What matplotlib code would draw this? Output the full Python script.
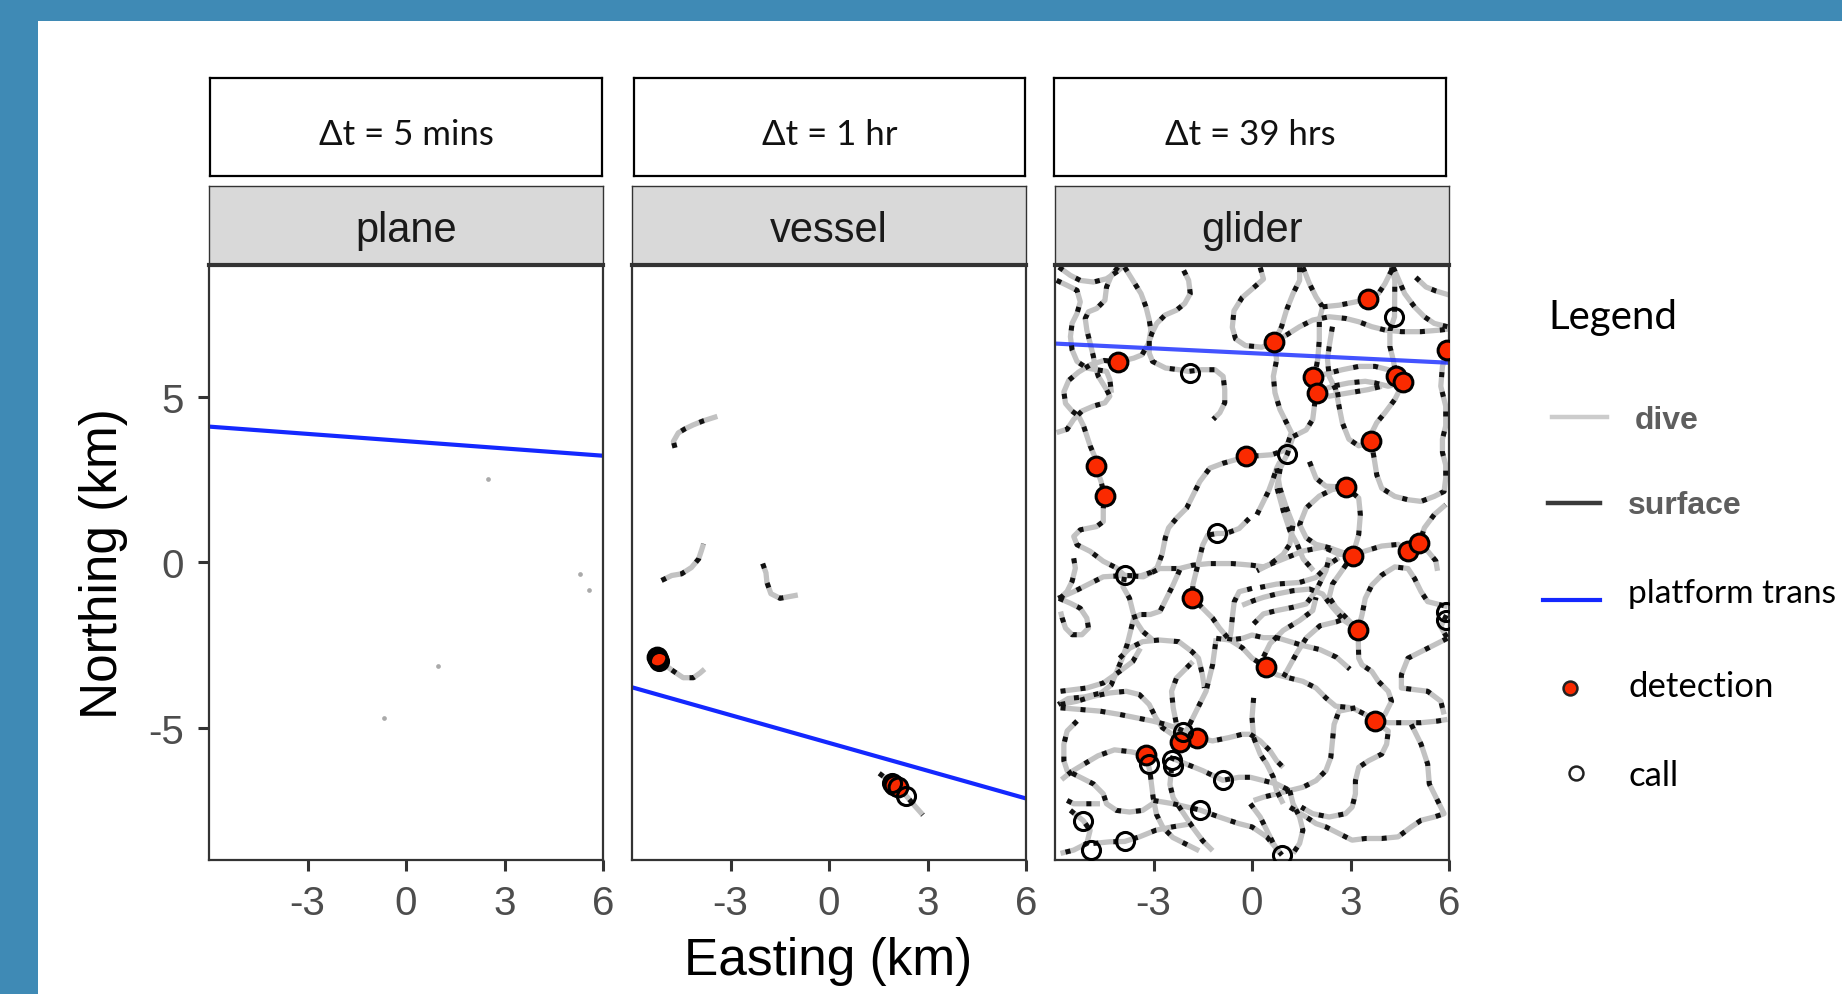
import matplotlib
matplotlib.use("Agg")
import matplotlib.pyplot as plt
from matplotlib.patches import Rectangle
from matplotlib.lines import Line2D

plt.rcParams['font.family'] = ['Liberation Sans', 'DejaVu Sans']
plt.rcParams['axes.unicode_minus'] = False

# ---------------- data ----------------
platforms = ["plane", "vessel", "glider"]
dt_labels = ["\u0394t = 5 mins", "\u0394t = 1 hr", "\u0394t = 39 hrs"]
x_ticks = [-3, 0, 3, 6]
x_tick_labels = ["-3", "0", "3", "6"]
y_ticks = [-5, 0, 5]
y_tick_labels = ["-5", "0", "5"]

# platform transect lines (x, y endpoints in km)
transect_plane = [(-6, 4.1), (6, 3.22)]
transect_vessel = [(-6, -3.78), (6, -7.14)]
transect_glider = [(-6, 6.61), (6, 6.03)]

# plane: tiny dive fragments
plane_dive_x = [2.5, 5.29, 5.57, 0.96, -0.68]
plane_dive_y = [2.51, -0.35, -0.85, -3.14, -4.7]

# vessel tracks
vessel_tracks = [
    [(-4.69, 3.46), (-4.74, 3.65), (-4.59, 3.91), (-4.39, 4.03), (-4.14, 4.15), (-3.84, 4.27), (-3.40, 4.41)],
    [(-5.10, -0.55), (-4.79, -0.40), (-4.49, -0.35), (-4.19, -0.16), (-3.97, 0.10), (-3.89, 0.34), (-3.82, 0.56)],
    [(-2.02, -0.04), (-1.92, -0.32), (-1.89, -0.61), (-1.77, -0.95), (-1.49, -1.09), (-1.22, -1.04), (-0.95, -0.99)],
    [(-5.25, -2.87), (-4.99, -3.11), (-4.74, -3.29), (-4.44, -3.49), (-4.13, -3.49), (-3.93, -3.35), (-3.79, -3.23)],
    [(1.53, -6.38), (1.85, -6.62), (2.10, -6.80), (2.36, -7.07), (2.6, -7.35), (2.86, -7.64)],
]
vessel_det_x = [-5.25, 1.98, 2.10]
vessel_det_y = [-2.85, -6.72, -6.80]
vessel_call_x = [-5.22, -5.18, 1.92, 2.36]
vessel_call_y = [-2.92, -2.98, -6.68, -7.07]

# glider tracks
glider_tracks = [
    [(-5.88, 8.92), (-5.53, 8.67), (-5.23, 8.52), (-4.83, 8.47), (-4.43, 8.57), (-4.13, 8.77), (-3.93, 8.94)],
    [(-3.88, 8.92), (-3.63, 8.52), (-3.38, 8.12), (-3.23, 7.72), (-3.13, 7.32), (-3.08, 7.02), (-3.13, 6.72), (-3.13, 6.32), (-3.03, 6.07), (-2.63, 5.87), (-2.23, 5.82), (-1.93, 5.77), (-1.53, 5.82), (-1.13, 5.82), (-0.88, 5.62), (-0.83, 5.22), (-0.83, 4.82), (-0.98, 4.52), (-1.18, 4.32)],
    [(-4.08, 8.92), (-4.28, 8.67), (-4.43, 8.32), (-4.48, 7.92), (-4.73, 7.67), (-4.98, 7.57), (-5.08, 7.37), (-5.03, 7.02), (-4.93, 6.62), (-4.83, 6.22), (-4.78, 5.92), (-4.68, 5.62), (-4.43, 5.22), (-4.33, 5.02), (-4.48, 4.82), (-4.83, 4.72), (-5.18, 4.57), (-5.43, 4.32), (-5.63, 4.02), (-5.95, 3.92)],
    [(-2.08, 8.82), (-1.93, 8.52), (-1.88, 8.12), (-2.05, 7.82), (-2.3, 7.62), (-2.65, 7.47), (-2.9, 7.22), (-3.05, 6.92), (-3.15, 6.62), (-3.35, 6.27), (-3.6, 6.17), (-4.09, 6.05), (-4.5, 6.1), (-4.9, 5.98), (-5.28, 5.75), (-5.58, 5.5), (-5.73, 5.15), (-5.68, 4.8), (-5.48, 4.57), (-5.28, 4.42), (-5.13, 4.12), (-5.03, 3.82), (-4.93, 3.52), (-4.78, 3.17), (-4.76, 2.90), (-4.6, 2.45), (-4.49, 2.01), (-4.53, 1.63), (-4.53, 1.23), (-4.73, 1.08), (-5.23, 0.98), (-5.43, 0.78), (-5.33, 0.53), (-4.93, 0.33), (-4.53, 0.03), (-4.13, -0.17), (-3.88, -0.40), (-3.93, -0.74), (-3.73, -1.09), (-3.63, -1.49), (-3.53, -1.79), (-3.33, -2.09), (-3.03, -2.34)],
    [(-5.95, 8.52), (-5.63, 8.37), (-5.33, 8.22), (-5.23, 7.87), (-5.33, 7.52), (-5.48, 7.22), (-5.53, 6.82), (-5.48, 6.42), (-5.33, 6.07), (-5.03, 5.87), (-4.73, 5.82), (-4.43, 5.77), (-4.33, 5.52), (-4.28, 5.12)],
    [(0.25, 8.91), (0.35, 8.56), (0.05, 8.30), (-0.3, 8.0), (-0.55, 7.6), (-0.6, 7.1), (-0.5, 6.75), (-0.2, 6.55), (0.3, 6.5), (0.68, 6.67), (1.05, 6.87), (1.45, 7.12), (1.85, 7.32), (2.35, 7.42), (2.85, 7.37), (3.25, 7.27), (3.65, 7.12), (4.05, 7.02), (4.55, 6.97), (5.15, 6.97), (5.75, 7.02), (6.0, 7.05)],
    [(1.45, 8.92), (1.45, 8.52), (1.25, 8.12), (1.05, 7.62), (0.9, 7.12), (0.68, 6.67), (0.75, 6.12), (0.65, 5.62), (0.7, 5.12), (0.85, 4.62), (1.05, 4.22), (1.2, 3.92), (1.1, 3.62), (0.95, 3.37), (0.6, 3.25), (0.2, 3.22), (-0.17, 3.20)],
    [(1.55, 8.92), (1.75, 8.42), (1.95, 8.02), (2.15, 7.72), (2.05, 7.32), (2.05, 6.72), (2.0, 6.12), (1.9, 5.6), (1.95, 5.13), (1.9, 4.72), (1.85, 4.32), (1.65, 4.0), (1.25, 3.8), (1.08, 3.28), (0.86, 2.84), (0.76, 2.25), (0.96, 1.53), (1.16, 0.94), (1.36, 0.58), (1.56, 0.10), (1.87, -0.25)],
    [(2.15, 7.72), (2.65, 7.77), (3.15, 7.87), (3.53, 7.96), (3.85, 8.12), (4.05, 8.42), (4.2, 8.72), (4.3, 8.92)],
    [(2.45, 7.12), (2.35, 6.52), (2.3, 6.12), (2.35, 5.62), (2.55, 5.22), (2.65, 4.72), (2.75, 4.22), (2.95, 3.72), (3.25, 3.52), (3.6, 3.63)],
    [(1.9, 5.6), (2.35, 5.72), (2.75, 5.82), (3.25, 5.92), (3.75, 5.92), (4.15, 5.82), (4.39, 5.64)],
    [(1.95, 5.13), (2.45, 5.32), (2.95, 5.42), (3.45, 5.47), (3.75, 5.42), (4.15, 5.32), (4.61, 5.44)],
    [(1.95, 5.13), (2.35, 5.02), (2.95, 5.12), (3.55, 5.22), (3.95, 5.32)],
    [(4.25, 8.92), (4.35, 8.52), (4.34, 7.42), (4.2, 7.0), (4.2, 6.52), (4.3, 6.12), (4.39, 5.64), (4.61, 5.44), (4.35, 4.92), (4.05, 4.52), (3.8, 4.22), (3.65, 3.92), (3.63, 3.65), (3.73, 3.08), (3.8, 2.64), (3.95, 2.24), (4.35, 1.99), (4.75, 1.89), (5.15, 1.84), (5.55, 1.99), (5.85, 2.14), (5.9, 2.54), (5.9, 2.94), (5.8, 3.32), (5.8, 3.72), (5.9, 4.12), (5.9, 4.72), (5.75, 5.32), (5.8, 5.92), (5.95, 6.43)],
    [(4.3, 8.92), (4.65, 8.12), (4.95, 7.72), (5.25, 7.42), (5.55, 7.22), (5.95, 7.12)],
    [(4.99, 8.61), (5.30, 8.32), (5.60, 8.20), (6.0, 8.08)],
    [(-0.17, 3.20), (-0.5, 3.1), (-0.89, 2.99), (-1.29, 2.84), (-1.59, 2.44), (-1.79, 2.04), (-1.99, 1.64), (-2.29, 1.34), (-2.54, 1.04), (-2.64, 0.74), (-2.74, 0.24), (-2.89, -0.16), (-3.09, -0.31), (-3.39, -0.41), (-3.86, -0.40)],
    [(-5.90, -1.09), (-5.43, -0.89), (-5.03, -0.69), (-4.53, -0.44), (-3.86, -0.40), (-3.31, -0.44), (-2.81, -0.19), (-2.21, -0.19), (-1.81, -0.09), (-1.31, -0.04), (-0.59, -0.04), (0.0, -0.09), (0.35, -0.14), (0.96, 0.10), (1.56, 0.34), (2.17, 0.46), (2.65, 0.24), (3.07, 0.22)],
    [(-0.09, 1.32), (-0.39, 1.02), (-0.79, 0.87), (-1.06, 0.87), (-1.35, 0.82), (-1.5, 0.52), (-1.6, 0.12), (-1.7, -0.28), (-1.8, -0.68), (-1.82, -1.07), (-1.5, -1.39), (-1.2, -1.69), (-0.99, -1.99), (-0.69, -2.34), (-0.29, -2.59), (0.0, -2.9), (0.43, -3.17), (0.75, -3.4), (1.15, -3.5), (1.55, -3.6), (1.95, -3.8), (2.25, -4.1), (2.55, -4.35), (3.05, -4.4), (3.45, -4.6), (3.73, -4.81), (4.15, -4.85), (4.65, -4.85), (5.15, -4.85), (5.65, -4.8), (5.95, -4.75)],
    [(-2.2, -0.23), (-2.4, -0.68), (-2.6, -1.08), (-2.8, -1.48), (-3.1, -1.58), (-3.4, -1.58), (-3.6, -1.68), (-3.7, -2.08), (-3.8, -2.48), (-3.95, -2.9), (-4.09, -3.23), (-4.29, -3.71), (-4.59, -3.95), (-5.10, -4.07), (-5.60, -4.12), (-5.90, -4.30)],
    [(-5.43, 0.12), (-5.38, -0.18), (-5.48, -0.58), (-5.63, -0.88), (-5.83, -1.08)],
    [(-5.88, -1.09), (-5.53, -1.24), (-5.23, -1.39), (-5.03, -1.69), (-4.98, -1.99), (-5.18, -2.19), (-5.48, -2.19), (-5.68, -1.99), (-5.78, -1.69), (-5.83, -1.49)],
    [(-4.03, -2.9), (-3.73, -2.6), (-3.33, -2.4), (-2.83, -2.35), (-2.23, -2.4), (-1.83, -2.7), (-1.63, -2.9), (-1.51, -3.4), (-1.45, -3.8)],
    [(-1.09, -2.3), (-0.69, -2.35), (-0.29, -2.3), (0.0, -2.2), (0.35, -2.28), (0.76, -2.28), (1.16, -2.40), (1.56, -2.52), (2.07, -2.64), (2.57, -2.87), (2.98, -3.23)],
    [(0.0, -0.79), (-0.39, -0.89), (-0.54, -1.19), (-0.59, -1.59), (-0.64, -2.09), (-0.69, -2.39)],
    [(2.86, 2.27), (2.45, 2.2), (2.05, 2.0), (1.65, 1.64), (1.45, 1.14), (1.65, 0.74), (1.95, 0.54), (2.35, 0.44), (2.75, 0.3), (3.07, 0.22), (2.7, -0.31), (2.45, -0.66), (2.35, -1.06), (2.55, -1.36), (2.85, -1.66), (3.23, -2.04)],
    [(1.75, 3.04), (1.95, 2.54), (2.25, 2.3), (2.86, 2.27), (3.25, 1.94), (3.3, 1.44), (3.25, 0.84), (3.07, 0.22)],
    [(3.07, 0.22), (3.45, 0.34), (3.95, 0.49), (4.45, 0.54), (4.74, 0.34), (5.10, 0.58), (5.25, 1.04), (5.55, 1.44), (5.9, 1.74)],
    [(5.10, 0.58), (5.35, 0.34), (5.6, 0.04), (5.65, -0.26)],
    [(3.23, -2.04), (3.35, -1.59), (3.45, -1.09), (3.65, -0.69), (3.95, -0.39), (4.35, -0.14), (4.75, -0.19), (4.95, -0.49), (5.15, -0.89), (5.35, -1.19), (5.75, -1.29), (5.95, -1.34)],
    [(3.23, -2.04), (2.8, -1.76), (2.45, -1.36), (2.15, -0.96), (1.75, -0.81), (1.25, -0.86), (0.75, -0.96), (0.35, -1.06), (0.05, -1.16), (-0.3, -1.3)],
    [(0.15, 1.44), (0.35, 1.84), (0.5, 2.14), (0.65, 2.54), (0.75, 2.84), (0.85, 3.04)],
    [(0.75, 2.84), (0.85, 2.24), (1.05, 1.64), (1.25, 1.14), (1.15, 0.54), (0.95, 0.24), (0.55, -0.06), (0.15, -0.26)],
    [(0.25, -0.76), (0.75, -0.66), (1.45, -0.61), (1.95, -0.46), (2.35, -0.06), (2.65, 0.14)],
    [(0.35, -2.86), (0.55, -2.46), (0.95, -2.06), (1.45, -1.76), (1.85, -1.46), (1.95, -1.06)],
    [(0.05, -1.86), (0.35, -1.56), (0.75, -1.46), (1.25, -1.36), (1.65, -1.26), (1.95, -0.86), (2.25, -0.26), (2.35, 0.14)],
    [(5.95, -2.3), (5.55, -2.5), (5.15, -2.7), (4.75, -2.9), (4.55, -3.4), (4.55, -3.8), (4.95, -3.85), (5.35, -3.9), (5.75, -4.2), (5.85, -4.6)],
    [(5.92, -1.6), (5.75, -1.95), (5.95, -2.3)],
    [(3.23, -2.04), (3.25, -2.9), (3.35, -3.1), (3.65, -3.3), (3.85, -3.6), (4.15, -3.9), (4.25, -4.2), (4.05, -4.6), (3.73, -4.81)],
    [(3.73, -4.81), (4.15, -5.1), (4.1, -5.5), (3.95, -5.8), (3.55, -6.0), (3.25, -6.2), (3.15, -6.6), (3.15, -7.0), (3.05, -7.4), (2.85, -7.6), (2.35, -7.7), (1.85, -7.6), (1.5, -7.4)],
    [(4.85, -4.9), (5.15, -5.5), (5.35, -6.1), (5.4, -6.7), (5.65, -7.2), (5.85, -7.6), (5.55, -7.7), (5.15, -7.8), (4.85, -8.0), (4.45, -8.3), (3.95, -8.35), (3.45, -8.35), (3.05, -8.4), (2.65, -8.2), (2.25, -8.0), (1.95, -7.9), (1.65, -7.7), (1.15, -7.4)],
    [(3.15, -4.4), (2.65, -4.5), (2.5, -4.9), (2.45, -5.4), (2.4, -5.9), (2.25, -6.3), (1.95, -6.6), (1.55, -6.8), (1.15, -6.9), (0.75, -7.0), (0.35, -7.1), (0.05, -7.2)],
    [(1.15, -6.9), (1.25, -7.3), (1.45, -7.7), (1.55, -8.1), (1.45, -8.5), (1.25, -8.8)],
    [(-0.05, -7.3), (0.25, -7.7), (0.45, -8.1), (0.65, -8.5), (0.85, -8.8)],
    [(0.05, -4.1), (0.0, -4.7), (0.05, -5.3), (0.25, -5.8), (0.45, -6.1), (0.65, -6.5), (0.75, -6.9), (0.95, -7.3)],
    [(-0.05, -5.2), (0.25, -5.4), (0.55, -5.7), (0.75, -6.0), (0.95, -6.2)],
    [(0.96, -3.47), (1.36, -2.75), (1.66, -2.28), (2.07, -1.92), (2.57, -1.80), (2.88, -1.68)],
    [(-5.83, -3.9), (-5.43, -3.85), (-5.03, -3.8), (-4.53, -3.65), (-4.03, -3.3), (-3.63, -3.0), (-3.4, -2.6)],
    [(-5.83, -4.3), (-5.33, -4.2), (-4.83, -4.05), (-4.33, -3.95), (-3.83, -3.9), (-3.43, -4.0), (-3.13, -4.3), (-2.93, -4.7), (-2.73, -5.0), (-2.43, -5.2), (-2.19, -5.43)],
    [(-5.83, -4.4), (-5.23, -4.45), (-4.63, -4.5), (-4.03, -4.6), (-3.53, -4.7), (-3.03, -4.8), (-2.63, -4.9), (-2.33, -5.0), (-1.95, -5.15), (-1.66, -5.31)],
    [(-5.33, -4.8), (-5.63, -5.1), (-5.73, -5.5), (-5.73, -6.0), (-5.63, -6.3), (-5.23, -6.5), (-4.83, -6.7), (-4.53, -7.0), (-4.43, -7.3), (-4.13, -7.5), (-3.73, -7.55), (-3.33, -7.5), (-3.03, -7.3)],
    [(-3.23, -5.83), (-3.11, -6.32), (-3.06, -6.72), (-3.01, -7.12), (-2.91, -7.62), (-2.71, -8.02), (-2.41, -8.32), (-2.01, -8.52), (-1.61, -8.72)],
    [(-2.19, -5.43), (-2.0, -5.1), (-1.8, -4.7), (-1.6, -4.3), (-1.4, -3.9), (-1.3, -3.5), (-1.2, -3.1), (-1.09, -2.3)],
    [(-2.19, -5.43), (-2.3, -4.9), (-2.4, -4.4), (-2.45, -3.9), (-2.3, -3.5), (-2.0, -3.2), (-1.8, -3.0)],
    [(-1.66, -5.31), (-1.2, -5.4), (-0.7, -5.3), (-0.3, -5.2), (-0.05, -5.2)],
    [(-2.5, -5.9), (-2.0, -6.1), (-1.5, -6.3), (-0.89, -6.59), (-0.4, -6.5), (-0.05, -6.5), (0.35, -6.6), (0.75, -6.7), (1.15, -6.9)],
    [(-2.45, -6.22), (-2.5, -6.72), (-2.4, -7.12), (-2.2, -7.42), (-2.0, -7.72), (-1.8, -8.02), (-1.5, -8.42), (-1.2, -8.72)],
    [(-3.0, -7.2), (-2.4, -7.3), (-1.58, -7.49), (-1.0, -7.7), (-0.4, -7.9), (0.0, -8.0), (0.45, -8.3), (0.91, -8.85)],
    [(-5.63, -7.2), (-5.43, -7.3), (-5.03, -7.3), (-4.63, -7.3)],
    [(-5.53, -7.5), (-5.14, -7.81), (-4.93, -8.1), (-5.03, -8.5), (-5.43, -8.7), (-5.83, -8.8)],
    [(-4.83, -8.5), (-4.33, -8.45), (-3.88, -8.44), (-3.43, -8.3), (-2.93, -8.1), (-2.43, -8.0), (-1.83, -7.9)],
    [(-3.23, -5.83), (-3.68, -5.73), (-4.19, -5.67), (-4.69, -5.85), (-5.10, -6.09), (-5.50, -6.33), (-5.80, -6.57)],
]

glider_det_x = [3.53, 0.68, 5.95, -4.09, 1.87, 1.97, 4.39, 4.61, 3.63, -0.17, -4.76, -4.49,
                2.86, 3.08, 4.74, 5.10, -1.82, 3.23, 0.43, 3.76, -1.66, -2.19, -3.23]
glider_det_y = [7.96, 6.67, 6.43, 6.05, 5.60, 5.13, 5.64, 5.44, 3.65, 3.20, 2.90, 2.01,
                2.27, 0.20, 0.34, 0.58, -1.07, -2.04, -3.17, -4.80, -5.31, -5.43, -5.83]
glider_call_x = [4.34, -1.89, 1.08, -1.06, -3.86, 5.90, 5.92, -2.09, -3.13, -2.45, -2.42,
                 -0.89, -1.58, -5.14, -3.88, -4.89, 0.91]
glider_call_y = [7.42, 5.73, 3.28, 0.87, -0.40, -1.51, -1.75, -5.14, -6.09, -5.99, -6.15,
                 -6.59, -7.49, -7.81, -8.44, -8.71, -8.85]

panel_tracks = [[], vessel_tracks, glider_tracks]
panel_transects = [transect_plane, transect_vessel, transect_glider]
panel_det = [([], []), (vessel_det_x, vessel_det_y), (glider_det_x, glider_det_y)]
panel_call = [([], []), (vessel_call_x, vessel_call_y), (glider_call_x, glider_call_y)]

# ---------------- styling ----------------
W, H = 1842, 995
BLUE_BG = '#3F8AB5'
DIVE = '#C2C2C2'
SURF = '#111111'
TRANS = '#1428FF'
RED = '#FA2A00'
DASH = (0, (1.0, 3.0))

fig = plt.figure(figsize=(W / 100, H / 100), dpi=100)
fig.patch.set_facecolor('white')


def fx(px):
    return px / W


def fy(py):
    return 1 - py / H


fig.patches.append(Rectangle((0, fy(22)), 1, 22 / H, transform=fig.transFigure,
                             facecolor=BLUE_BG, edgecolor='none', zorder=0))
fig.patches.append(Rectangle((0, 0), 38 / W, 1, transform=fig.transFigure,
                             facecolor=BLUE_BG, edgecolor='none', zorder=0))

panel_x = [(209, 603), (632, 1026), (1055, 1449)]
box_x = [(210, 602), (634, 1025), (1054, 1446)]
p_top, p_bot = 265.5, 861
s_top = 187
b_top, b_bot = 79, 177

for i, (l, r) in enumerate(panel_x):
    ax = fig.add_axes([fx(l), fy(p_bot), (r - l) / W, (p_bot - p_top) / H])
    ax.set_xlim(-6, 6)
    ax.set_ylim(-9, 9)
    ax.set_facecolor('white')
    for sp in ax.spines.values():
        sp.set_color('#333333')
        sp.set_linewidth(1.6)
    ax.set_xticks(x_ticks)
    ax.set_xticklabels(x_tick_labels)
    if i == 0:
        ax.set_yticks(y_ticks)
        ax.set_yticklabels(y_tick_labels)
    else:
        ax.set_yticks([])
    ax.tick_params(direction='out', length=8, width=2.2, color='#333333',
                   labelsize=29, labelcolor='#4D4D4D')
    ax.tick_params(axis='x', pad=9)
    ax.tick_params(axis='y', pad=10)

    # tracks
    for tr in panel_tracks[i]:
        xs = [p[0] for p in tr]
        ys = [p[1] for p in tr]
        ax.plot(xs, ys, color=DIVE, lw=3.8, solid_capstyle='butt',
                solid_joinstyle='round', zorder=2)
        ax.plot(xs, ys, color=SURF, lw=3.6, linestyle=DASH,
                dash_capstyle='butt', zorder=3)
    if i == 0:
        ax.plot(plane_dive_x, plane_dive_y, linestyle='none', marker='o',
                ms=3.4, color='#AAAAAA', mec='none', zorder=2)

    tx = [p[0] for p in panel_transects[i]]
    ty = [p[1] for p in panel_transects[i]]
    ax.plot(tx, ty, color=TRANS, lw=3.0, alpha=0.8 if i == 2 else 1.0, zorder=2.5)

    dx, dy = panel_det[i]
    if dx:
        ax.plot(dx, dy, linestyle='none', marker='o', ms=13.5, mfc=RED,
                mec='black', mew=2.2, zorder=5)
    cx, cy = panel_call[i]
    if cx:
        ax.plot(cx, cy, linestyle='none', marker='o', ms=13, mfc='none',
                mec='black', mew=2.2, zorder=6)

    # grey strip
    sax = fig.add_axes([fx(l), fy(p_top), (r - l) / W, (p_top - s_top) / H])
    sax.set_facecolor('#D9D9D9')
    sax.set_xticks([])
    sax.set_yticks([])
    for sp in sax.spines.values():
        sp.set_color('#333333')
        sp.set_linewidth(1.0)
    sax.spines['bottom'].set_linewidth(3.0)
    sax.text(0.5, 0.44, platforms[i], ha='center', va='center', fontsize=30,
             color='#1A1A1A', transform=sax.transAxes)

    # top white boxes
    bl, br = box_x[i]
    bax = fig.add_axes([fx(bl), fy(b_bot), (br - bl) / W, (b_bot - b_top) / H])
    bax.set_facecolor('white')
    bax.set_xticks([])
    bax.set_yticks([])
    for sp in bax.spines.values():
        sp.set_color('black')
        sp.set_linewidth(1.6)
    bax.text(0.5, 0.43, dt_labels[i], ha='center', va='center', fontsize=25,
             family=['Lato', 'DejaVu Sans'], color='#111111', transform=bax.transAxes)

# axis titles
fig.text(fx(828), fy(962), 'Easting (km)', ha='center', va='center', fontsize=37, color='black')
fig.text(fx(103), fy(564), 'Northing (km)', ha='center', va='center', rotation=90,
         fontsize=37, color='black')

# ---------------- legend (manual) ----------------
lax = fig.add_axes([0, 0, 1, 1], zorder=10)
lax.set_xlim(0, W)
lax.set_ylim(H, 0)
lax.axis('off')
lax.patch.set_alpha(0)

lax.text(1548, 317, 'Legend', fontsize=29, family=['Lato', 'DejaVu Sans'],
         ha='left', va='center', color='black')
lax.add_line(Line2D([1552, 1607], [418, 418], color='#CCCCCC', lw=3.2))
lax.text(1635, 421, 'dive', fontsize=23, weight='bold', color='#5E5E5E',
         ha='left', va='center')
lax.add_line(Line2D([1548, 1600], [504, 504], color='#3A3A3A', lw=3.2))
lax.text(1628, 506, 'surface', fontsize=23, weight='bold', color='#5E5E5E',
         ha='left', va='center')
lax.add_line(Line2D([1543, 1600], [601, 601], color=TRANS, lw=3.0))
lax.text(1628, 594, 'platform trans', fontsize=24, family=['Lato', 'DejaVu Sans'],
         color='black', ha='left', va='center')
lax.plot([1570], [689], marker='o', ms=10, mfc=RED, mec='#222222', mew=1.8, linestyle='none')
lax.text(1628, 687, 'detection', fontsize=25, family=['Lato', 'DejaVu Sans'],
         color='black', ha='left', va='center')
lax.plot([1576], [774], marker='o', ms=10, mfc='white', mec='#222222', mew=1.8, linestyle='none')
lax.text(1628, 776, 'call', fontsize=25, family=['Lato', 'DejaVu Sans'],
         color='black', ha='left', va='center')

fig.savefig('out.png', dpi=100, facecolor='white')
